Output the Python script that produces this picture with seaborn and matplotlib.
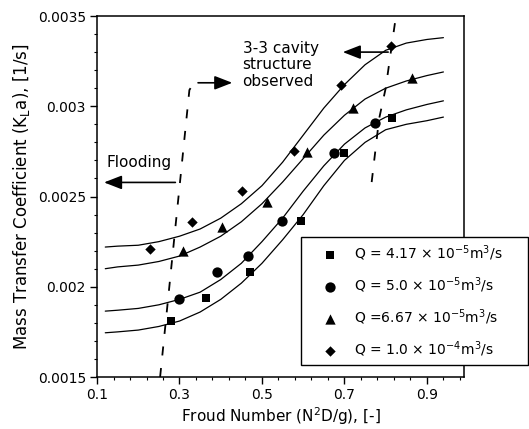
import numpy as np
import pandas as pd
import matplotlib
matplotlib.use('Agg')
import matplotlib.pyplot as plt
from matplotlib.ticker import AutoMinorLocator
import seaborn as sns

sns.set_style('ticks')
plt.rcParams['font.family'] = ['DejaVu Sans']
plt.rcParams['mathtext.default'] = 'regular'
plt.rcParams['text.color'] = 'k'
plt.rcParams['axes.labelcolor'] = 'k'

# measured points (Froude number, KLa)
fr_sq = [0.28, 0.365, 0.47, 0.594, 0.699, 0.815]
ka_sq = [0.00181, 0.00194, 0.00208, 0.002367, 0.00274, 0.002933]
fr_ci = [0.30, 0.39, 0.465, 0.548, 0.674, 0.774]
ka_ci = [0.001933, 0.002083, 0.002172, 0.002367, 0.00274, 0.002906]
fr_tr = [0.309, 0.404, 0.511, 0.609, 0.72, 0.864]
ka_tr = [0.0022, 0.002333, 0.002472, 0.002744, 0.00299, 0.003156]
fr_di = [0.229, 0.331, 0.452, 0.577, 0.691, 0.813]
ka_di = [0.00221, 0.00236, 0.002528, 0.00275, 0.003117, 0.003333]

# fitted curves
fit_x = [0.12, 0.15, 0.2, 0.25, 0.3, 0.35, 0.4, 0.45, 0.5, 0.55, 0.6, 0.65, 0.7, 0.75, 0.8, 0.85, 0.9, 0.94]
fit_sq = [0.001745, 0.00175, 0.00176, 0.00178, 0.00181, 0.00186, 0.00193, 0.00202, 0.00213, 0.00226,
          0.0024, 0.00256, 0.0027, 0.0028, 0.00287, 0.0029, 0.00292, 0.00294]
fit_ci = [0.001865, 0.00187, 0.00188, 0.0019, 0.00193, 0.00197, 0.00204, 0.00213, 0.00225, 0.00238,
          0.00253, 0.00267, 0.00279, 0.00288, 0.00294, 0.00298, 0.00301, 0.00303]
fit_tr = [0.0021, 0.00211, 0.00212, 0.00214, 0.00217, 0.00222, 0.00228, 0.00236, 0.00246, 0.00258,
          0.00271, 0.00284, 0.00295, 0.00304, 0.0031, 0.00314, 0.00317, 0.00319]
fit_di = [0.00222, 0.002225, 0.00223, 0.00225, 0.00228, 0.00232, 0.00238, 0.00246, 0.00256, 0.00269,
          0.00284, 0.00299, 0.00312, 0.00323, 0.00331, 0.00335, 0.00337, 0.00338]

labels = [r'Q = 4.17 $\times$ 10$^{-5}$m$^3$/s',
          r'Q = 5.0 $\times$ 10$^{-5}$m$^3$/s',
          r'Q =6.67 $\times$ 10$^{-5}$m$^3$/s',
          r'Q = 1.0 $\times$ 10$^{-4}$m$^3$/s']

# regime boundaries (dashed)
flood_x = [0.253, 0.324, 0.335]
flood_y = [0.0015, 0.00309, 0.00313]
cavity_x = [0.766, 0.784, 0.80, 0.823]
cavity_y = [0.00258, 0.00293, 0.0031, 0.00347]

x_ticks = [0.1, 0.3, 0.5, 0.7, 0.9]
x_tick_labels = ['0.1', '0.3', '0.5', '0.7', '0.9']
y_ticks = [0.0015, 0.002, 0.0025, 0.003, 0.0035]
y_tick_labels = ['0.0015', '0.002', '0.0025', '0.003', '0.0035']

fig = plt.figure(figsize=(5.29, 4.29), dpi=100)
ax = fig.add_axes([0.1834, 0.1212, 0.6938, 0.8415])

series = [(fr_sq, ka_sq, fit_sq, 's', 40),
          (fr_ci, ka_ci, fit_ci, 'o', 55),
          (fr_tr, ka_tr, fit_tr, '^', 55),
          (fr_di, ka_di, fit_di, 'D', 28)]

handles = []
for (fx, fy, fit, mk, sz), lab in zip(series, labels):
    sns.lineplot(x=fit_x, y=fit, ax=ax, color='k', lw=0.9, sort=False)
    sc = ax.scatter(fx, fy, marker=mk, s=sz, color='k', linewidths=0, zorder=3, label=lab)
    handles.append(sc)

sns.lineplot(x=flood_x, y=flood_y, ax=ax, color='k', lw=1.3, sort=False)
ax.lines[-1].set_dashes([5, 7])
sns.lineplot(x=cavity_x, y=cavity_y, ax=ax, color='k', lw=1.3, sort=False)
ax.lines[-1].set_dashes([5, 7])

arw = dict(arrowstyle='-|>,head_length=0.9,head_width=0.35', color='k', lw=1.2,
           shrinkA=0, shrinkB=0, mutation_scale=12)
ax.annotate('', xy=(0.428, 0.00313), xytext=(0.345, 0.00313), arrowprops=arw)
ax.annotate('', xy=(0.117, 0.002578), xytext=(0.29, 0.002578), arrowprops=arw)
ax.annotate('', xy=(0.696, 0.0033), xytext=(0.806, 0.0033), arrowprops=arw)

ax.text(0.453, 0.00336, '3-3 cavity\nstructure\nobserved', fontsize=11, va='top', ha='left', linespacing=1.1)
ax.text(0.122, 0.00269, 'Flooding', fontsize=11, va='center', ha='left')

ax.set_xlim(0.1, 0.99)
ax.set_ylim(0.0015, 0.0035)
ax.set_xticks(x_ticks)
ax.set_xticklabels(x_tick_labels)
ax.set_yticks(y_ticks)
ax.set_yticklabels(y_tick_labels)
ax.xaxis.set_minor_locator(AutoMinorLocator(5))
ax.yaxis.set_minor_locator(AutoMinorLocator(5))
ax.tick_params(which='major', direction='out', length=5, width=1, labelsize=10, colors='k', pad=3)
ax.tick_params(which='minor', direction='out', length=2.5, width=0.8, colors='k')
for sp in ax.spines.values():
    sp.set_linewidth(1.1)
    sp.set_color('k')
    sp.set_visible(True)

ax.set_xlabel(r'Froud Number (N$^2$D/g), [-]', fontsize=11, labelpad=2)
ax.set_ylabel(r'Mass Transfer Coefficient (K$_L$a), [1/s]', fontsize=12, labelpad=4)

leg = ax.legend(handles=handles, labels=labels, loc='upper left',
                bbox_to_anchor=(0.569, 0.1469, 0.429, 0.3007), bbox_transform=fig.transFigure,
                mode='expand', fontsize=10, frameon=True, fancybox=False, borderaxespad=0,
                handletextpad=0.1, labelspacing=0.9, borderpad=0.45, handlelength=3.3)
leg.get_frame().set_edgecolor('k')
leg.get_frame().set_linewidth(1.0)
leg.get_frame().set_alpha(1)

fig.savefig('out.png', dpi=100, facecolor='w')
